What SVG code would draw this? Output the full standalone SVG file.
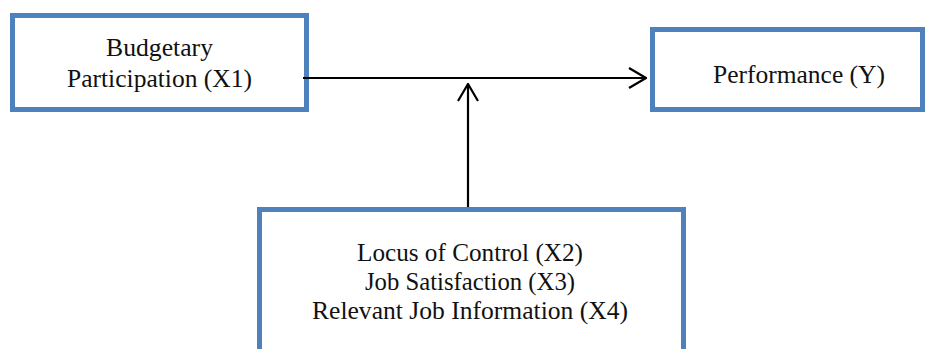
<svg xmlns="http://www.w3.org/2000/svg" width="935" height="349" viewBox="0 0 935 349">
  <style>
    .box { fill: #ffffff; stroke: #4f81bd; stroke-width: 5; }
    .label { font-family: "Liberation Serif", "Times New Roman", serif; font-size: 25px; fill: #111111; }
    .edge { fill: none; stroke: #000000; stroke-width: 2.2; }
  </style>
  <defs>
    <!-- open chevron arrowhead -->
    <marker id="openArrow" viewBox="0 0 19 22" refX="18" refY="11" markerWidth="19" markerHeight="22" markerUnits="userSpaceOnUse" orient="auto">
      <path d="M1,1 L18,11 L1,21" fill="none" stroke="#000000" stroke-width="2.2"/>
    </marker>
  </defs>
  <rect width="935" height="349" fill="#ffffff"/>

  <g id="budgetary-participation">
    <rect class="box" x="12.5" y="15.5" width="294" height="94"/>
    <text class="label" x="159.5" y="56" text-anchor="middle" textLength="107" lengthAdjust="spacingAndGlyphs">Budgetary</text>
    <text class="label" x="159.5" y="87" text-anchor="middle" textLength="185" lengthAdjust="spacingAndGlyphs">Participation (X1)</text>
  </g>

  <g id="performance">
    <rect class="box" x="652.5" y="29.5" width="270" height="80"/>
    <text class="label" x="799" y="83" text-anchor="middle" textLength="172" lengthAdjust="spacingAndGlyphs">Performance (Y)</text>
  </g>

  <g id="moderators">
    <rect class="box" x="259.5" y="209.5" width="424" height="160"/>
    <text class="label" x="470" y="260.5" text-anchor="middle" textLength="226" lengthAdjust="spacingAndGlyphs">Locus of Control (X2)</text>
    <text class="label" x="470" y="289.5" text-anchor="middle" textLength="210" lengthAdjust="spacingAndGlyphs">Job Satisfaction (X3)</text>
    <text class="label" x="470" y="318.5" text-anchor="middle" textLength="316" lengthAdjust="spacingAndGlyphs">Relevant Job Information (X4)</text>
  </g>

  <g id="connectors">
    <line class="edge" x1="303" y1="78" x2="646" y2="78" marker-end="url(#openArrow)"/>
    <line class="edge" x1="468" y1="207" x2="468" y2="84" marker-end="url(#openArrow)"/>
  </g>
</svg>
